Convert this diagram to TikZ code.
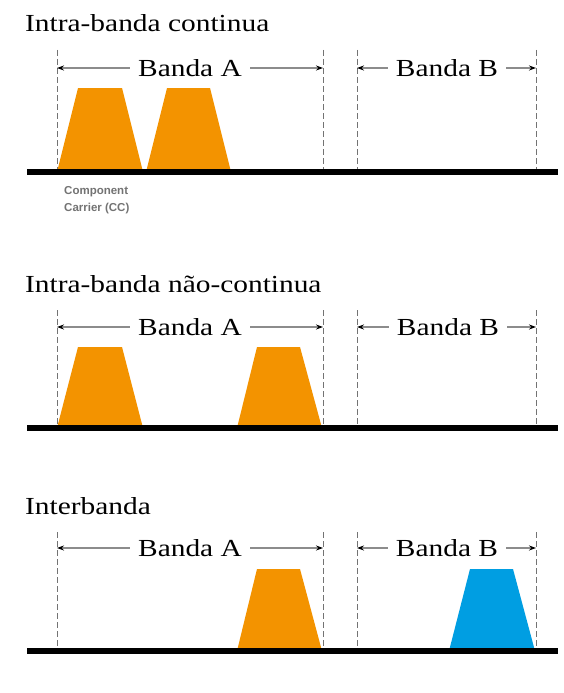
\documentclass[tikz,border=0pt]{standalone}
\usepackage{fontspec}
\setmainfont{Liberation Serif}[FakeStretch=1.2]
\newfontfamily\ccfont{Liberation Sans}
\usetikzlibrary{arrows.meta}
\definecolor{ccorange}{RGB}{243,147,0}
\definecolor{ccblue}{RGB}{0,158,226}
\tikzset{
  title/.style={anchor=base west, inner sep=0pt, font=\fontsize{24.5}{28}\selectfont},
  bandlabel/.style={anchor=base, inner ysep=0pt, inner xsep=8pt, font=\fontsize{24.5}{28}\selectfont},
  bandarrow/.style={draw=black!45, line width=1.1pt, -{Stealth[length=7pt,width=5pt,black]}},
  bandedge/.style={draw=black!55, line width=1pt, dash pattern=on 6pt off 3pt},
  axis/.style={draw=black, line width=5.5pt},
  cclabel/.style={anchor=base west, inner sep=0pt, text=black!55, font=\ccfont\bfseries\fontsize{11.5}{13}\selectfont}
}
\begin{document}
\begin{tikzpicture}[x=1pt,y=-1pt]
\useasboundingbox (0,0) rectangle (563,693);
\fill[white] (0,0) rectangle (563,693);

% ---------------- Panel 1 ----------------
\node[title] (t1) at (25,32) {Intra-banda continua};
\foreach \n/\x in {a/57,b/323,c/357,d/536}{
  \coordinate (p1\n top) at (\x,50);
  \coordinate (p1\n bot) at (\x,172);
  \coordinate (p1\n arr) at (\x,68);
  \draw[bandedge] (p1\n top) -- (p1\n bot);
}
\coordinate (ax1l) at (27,172);
\coordinate (ax1r) at (558,172);
\fill[ccorange] (57,172) -- (78,88) -- (122,88) -- (143,172) -- cycle;
\fill[ccorange] (146,172) -- (167,88) -- (210,88) -- (231,172) -- cycle;
\draw[axis] (ax1l) -- (ax1r);
\node[bandlabel] (bA1) at (190,76.5) {Banda A};
\node[bandlabel] (bB1) at (447,76.5) {Banda B};
\draw[bandarrow] (bA1.west |- p1aarr) -- (p1aarr);
\draw[bandarrow] (bA1.east |- p1barr) -- (p1barr);
\draw[bandarrow] (bB1.west |- p1carr) -- (p1carr);
\draw[bandarrow] (bB1.east |- p1darr) -- (p1darr);
\node[cclabel] (cc1) at (64,194) {Component};
\node[cclabel] (cc2) at (64,211) {Carrier (CC)};

% ---------------- Panel 2 ----------------
\node[title] (t2) at (25,292) {Intra-banda não-continua};
\foreach \n/\x in {a/57,b/323,c/357,d/536}{
  \coordinate (p2\n top) at (\x,310);
  \coordinate (p2\n bot) at (\x,428);
  \coordinate (p2\n arr) at (\x,327);
  \draw[bandedge] (p2\n top) -- (p2\n bot);
}
\coordinate (ax2l) at (27,428);
\coordinate (ax2r) at (558,428);
\fill[ccorange] (57,428) -- (78,347) -- (122,347) -- (143,428) -- cycle;
\fill[ccorange] (237,428) -- (257,347) -- (300,347) -- (322,428) -- cycle;
\draw[axis] (ax2l) -- (ax2r);
\node[bandlabel] (bA2) at (190,335.5) {Banda A};
\node[bandlabel] (bB2) at (448,335.5) {Banda B};
\draw[bandarrow] (bA2.west |- p2aarr) -- (p2aarr);
\draw[bandarrow] (bA2.east |- p2barr) -- (p2barr);
\draw[bandarrow] (bB2.west |- p2carr) -- (p2carr);
\draw[bandarrow] (bB2.east |- p2darr) -- (p2darr);

% ---------------- Panel 3 ----------------
\node[title] (t3) at (25,514) {Interbanda};
\foreach \n/\x in {a/57,b/323,c/357,d/536}{
  \coordinate (p3\n top) at (\x,532);
  \coordinate (p3\n bot) at (\x,651);
  \coordinate (p3\n arr) at (\x,548);
  \draw[bandedge] (p3\n top) -- (p3\n bot);
}
\coordinate (ax3l) at (27,651);
\coordinate (ax3r) at (558,651);
\fill[ccorange] (237,651) -- (257,569) -- (300,569) -- (322,651) -- cycle;
\fill[ccblue] (449,651) -- (470,569) -- (513,569) -- (535,651) -- cycle;
\draw[axis] (ax3l) -- (ax3r);
\node[bandlabel] (bA3) at (190,556.5) {Banda A};
\node[bandlabel] (bB3) at (447,556.5) {Banda B};
\draw[bandarrow] (bA3.west |- p3aarr) -- (p3aarr);
\draw[bandarrow] (bA3.east |- p3barr) -- (p3barr);
\draw[bandarrow] (bB3.west |- p3carr) -- (p3carr);
\draw[bandarrow] (bB3.east |- p3darr) -- (p3darr);
\end{tikzpicture}
\end{document}
